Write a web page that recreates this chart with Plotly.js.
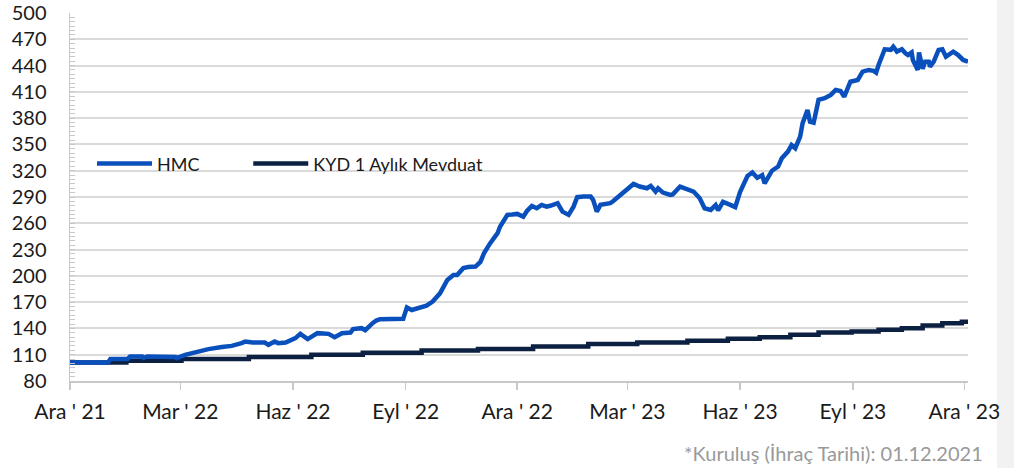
<!DOCTYPE html>
<html><head><meta charset="utf-8">
<script src="https://cdn.plot.ly/plotly-3.0.1.min.js"></script>
<style>html,body{margin:0;padding:0;background:#fff;}#chart{width:1014px;height:468px;}</style>
</head><body><div id="chart"></div>
<script>
const seriesNames = ['HMC', 'KYD 1 Aylık Mevduat'];

const hmcDates = ['2021-12-01','2022-01-01','2022-01-03','2022-01-17','2022-01-19','2022-01-29','2022-01-30','2022-02-02','2022-02-25','2022-02-26',
'2022-03-05','2022-03-16','2022-03-24','2022-04-04','2022-04-12','2022-04-20','2022-04-23','2022-04-29','2022-05-09','2022-05-12',
'2022-05-17','2022-05-20','2022-05-26','2022-06-03','2022-06-07','2022-06-13','2022-06-21','2022-06-30','2022-07-05','2022-07-11',
'2022-07-18','2022-07-20','2022-07-27','2022-07-30','2022-08-01','2022-08-05','2022-08-08','2022-08-11','2022-08-30','2022-09-02',
'2022-09-06','2022-09-13','2022-09-18','2022-09-23','2022-09-27','2022-09-29','2022-10-05','2022-10-10','2022-10-13','2022-10-18',
'2022-10-22','2022-10-28','2022-11-01','2022-11-04','2022-11-09','2022-11-11','2022-11-15','2022-11-17','2022-11-23','2022-11-27',
'2022-12-01','2022-12-06','2022-12-09','2022-12-13','2022-12-17','2022-12-21','2022-12-25','2022-12-28','2023-01-03','2023-01-07',
'2023-01-12','2023-01-16','2023-01-19','2023-01-24','2023-01-30','2023-02-01','2023-02-04','2023-02-07','2023-02-15','2023-02-17',
'2023-02-23','2023-03-01','2023-03-06','2023-03-11','2023-03-17','2023-03-20','2023-03-24','2023-03-26','2023-03-30','2023-04-05',
'2023-04-07','2023-04-13','2023-04-19','2023-04-24','2023-04-29','2023-05-03','2023-05-08','2023-05-12','2023-05-14','2023-05-18',
'2023-05-24','2023-05-28','2023-06-01','2023-06-07','2023-06-11','2023-06-15','2023-06-17','2023-06-19','2023-06-21','2023-06-27',
'2023-07-02','2023-07-05','2023-07-10','2023-07-13','2023-07-16','2023-07-20','2023-07-22','2023-07-26','2023-07-28','2023-07-31',
'2023-08-04','2023-08-09','2023-08-14','2023-08-18','2023-08-22','2023-08-25','2023-08-30','2023-09-05','2023-09-09','2023-09-14',
'2023-09-18','2023-09-20','2023-09-22','2023-09-25','2023-09-27','2023-10-02','2023-10-04','2023-10-07','2023-10-11','2023-10-14',
'2023-10-16','2023-10-19','2023-10-20','2023-10-24','2023-10-25','2023-10-28','2023-10-30','2023-11-02','2023-11-03','2023-11-06',
'2023-11-10','2023-11-13','2023-11-16','2023-11-22','2023-11-26','2023-11-30','2023-12-04'];

const hmcValues = [101,101,105,105,108,108,106.5,108,107.5,106.1,
109.9,113.7,116.4,118.7,120.1,123.2,125,123.9,123.9,121.3,
125,123.2,123.9,128.9,133.8,127.8,134.6,133.8,130,134.6,
135.3,139.2,140.3,138,141,146,149,150.5,151,164,
161,163.5,166,170.7,176,180,195.4,201,201,208.8,
210,210.6,216,226,237.3,241,248.7,256,269.6,270,
270.7,267.6,274,279.8,277.2,281,279,280,282.9,273.3,
269.6,279,289.8,290.5,290.5,286.7,273.3,281,282.9,284.8,
292.4,300,304.9,302,300,302.7,296.2,300,295,292.4,
293,301.9,299,296.2,288.6,277.2,275.3,280.7,274.8,284.4,
281,278.4,296,314,318,312,313.3,315,305.5,320,
324.7,334.2,341.8,349.4,345.7,358.9,374.2,389.4,376,374.9,
400.8,402.7,406.5,412.2,411,404.5,421.6,423.6,433,435,
434,432,440.7,452.1,458.6,458,461.6,455.9,458.6,454,
452,455,446.4,435,455,436.4,444.5,444.5,438.8,444.5,
457.8,458.6,450.2,455.9,452,446.4,444.5];

const kydDates = ['2021-12-01','2022-01-16','2022-03-02','2022-04-26','2022-06-16','2022-07-28','2022-09-14','2022-10-30','2022-12-14','2023-01-28',
'2023-03-09','2023-04-19','2023-05-22','2023-06-17','2023-07-12','2023-08-04','2023-08-31','2023-09-22','2023-10-11','2023-10-28',
'2023-11-13','2023-11-29','2023-12-04'];
const kydValues = [101,103,105,107.3,109.9,112.3,114.8,116.6,119.4,122.1,
123.9,125.8,128.1,130,132.7,135.3,136.5,138.4,140.3,143.3,
146,147.5,147.5];

const tickDates = ['2021-12-01','2022-03-01','2022-06-01','2022-09-01','2022-12-01','2023-03-01','2023-06-01','2023-09-01','2023-12-01'];
const tickLabels = ["Ara ' 21","Mar ' 22","Haz ' 22","Eyl ' 22","Ara ' 22","Mar ' 23","Haz ' 23","Eyl ' 23","Ara ' 23"];
const footnote = '*Kuruluş (İhraç Tarihi): 01.12.2021';

const FONT = 'Lato, "Open Sans", sans-serif';

const traces = [
  {x: kydDates, y: kydValues, name: seriesNames[1], type: 'scatter', mode: 'lines',
   line: {color: '#0c2142', width: 4.5, shape: 'hv'}, legend: 'legend2'},
  {x: hmcDates, y: hmcValues, name: seriesNames[0], type: 'scatter', mode: 'lines',
   line: {color: '#0a50bd', width: 4.5}, legend: 'legend'}
];

const legendBase = {orientation: 'h', xanchor: 'left', y: 0.59, yanchor: 'middle',
  bgcolor: 'rgba(0,0,0,0)', font: {family: FONT, size: 18, color: '#1a1a1a'}, itemwidth: 55};

const layout = {
  width: 1014, height: 468,
  margin: {l: 70, r: 46, t: 13, b: 87},
  paper_bgcolor: '#ffffff', plot_bgcolor: '#ffffff',
  font: {family: FONT, color: '#1a1a1a', size: 20},
  showlegend: true,
  legend: Object.assign({}, legendBase, {x: 0.0245}),
  legend2: Object.assign({}, legendBase, {x: 0.1985}),
  xaxis: {type: 'date', range: ['2021-12-01', '2023-12-04'],
          tickmode: 'array', tickvals: tickDates, ticktext: tickLabels,
          showgrid: false, zeroline: false,
          showline: true, linecolor: '#c8c8c8', linewidth: 1.5,
          ticks: 'outside', ticklen: 7, tickwidth: 1.5, tickcolor: '#c8c8c8',
          ticklabelstandoff: 4,
          tickfont: {family: FONT, size: 21, color: '#1a1a1a'}},
  yaxis: {range: [80, 500], tick0: 80, dtick: 30,
          showgrid: true, gridcolor: '#dadada', gridwidth: 2,
          zeroline: false, showline: true, linecolor: '#c8c8c8', linewidth: 1.5,
          ticks: 'inside', ticklen: 5, tickwidth: 1, tickcolor: '#c8c8c8',
          minor: {dtick: 5, ticks: 'inside', ticklen: 5, tickwidth: 1, tickcolor: '#c8c8c8', showgrid: false},
          ticklabelstandoff: 18,
          tickfont: {family: FONT, size: 20, color: '#1a1a1a'}},
  shapes: [
    {type: 'rect', xref: 'paper', yref: 'paper', x0: 1.0323, x1: 1.06, y0: -0.25, y1: 1.05,
     fillcolor: '#f2f2f2', line: {width: 0}, layer: 'below'}
  ],
  annotations: [
    {text: footnote, xref: 'paper', yref: 'paper', x: 1.019, y: -0.195, xanchor: 'right', yanchor: 'middle',
     showarrow: false, font: {family: FONT, size: 20, color: '#999999'}}
  ]
};

Plotly.newPlot('chart', traces, layout, {displayModeBar: false, staticPlot: true});
</script>
</body></html>
